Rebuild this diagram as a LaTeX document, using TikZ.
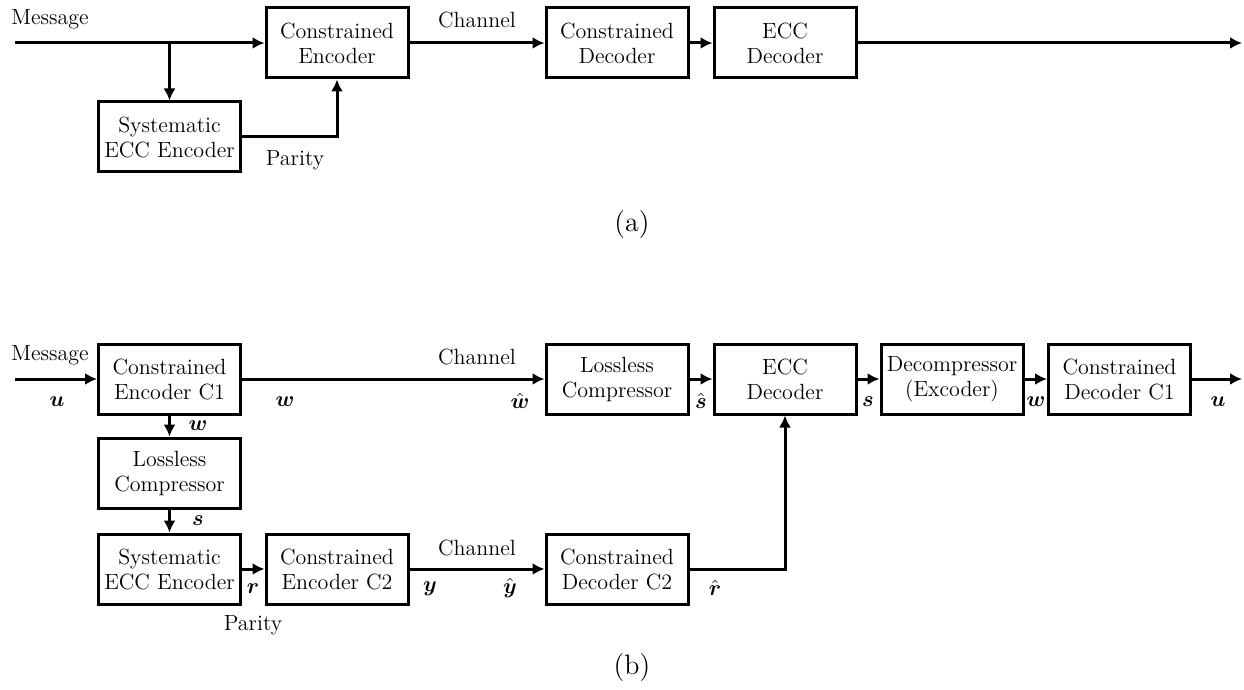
\documentclass[tikz,border=0pt]{standalone}
\usepackage{amsmath,amssymb}
\usetikzlibrary{arrows.meta}
\newcommand{\fsz}{\fontsize{11}{12.5}\selectfont}
\newcommand{\bv}[1]{\boldsymbol{#1}}
\begin{document}
\begin{tikzpicture}[x=0.5pt,y=-0.5pt,
  blk/.style={draw, line width=1.5pt, minimum width=71pt, minimum height=35pt, inner sep=0pt, align=center, font=\fsz},
  lbl/.style={inner sep=0pt, font=\fsz},
  ln/.style={line width=1.5pt},
  arr/.style={line width=1.5pt, -{Latex[length=6pt,width=6pt]}}]
\useasboundingbox (0,0) rectangle (1244,690);
% ---------- (a)
\node[blk] (CEa) at (337,43) {Constrained\\Encoder};
\node[blk] (SEa) at (169.5,137) {Systematic\\ECC Encoder};
\node[blk] (CDa) at (617,43) {Constrained\\Decoder};
\node[blk] (EDa) at (785,43) {ECC\\Decoder};
\coordinate (ina) at (15,43);
\coordinate (brA) at (169.5,43);
\coordinate (outa) at (1242,43);
\node[lbl] (msgA) at (50,19) {Message};
\node[lbl] (chA) at (477,20) {Channel};
\node[lbl] (parA) at (295,160) {Parity};
\node[inner sep=0pt, font=\fontsize{14}{16}\selectfont] (capA) at (632,225) {(a)};
\draw[arr] (ina) -- (CEa);
\draw[arr] (brA) -- (SEa);
\draw[arr] (SEa.east) -| (CEa.south);
\draw[arr] (CEa) -- (CDa);
\draw[arr] (CDa) -- (EDa);
\draw[arr] (EDa) -- (outa);
% ---------- (b)
\node[blk] (CE1) at (169.5,379) {Constrained\\Encoder C1};
\node[blk] (LC1) at (169.5,473) {Lossless\\Compressor};
\node[blk] (SEb) at (169.5,569) {Systematic\\ECC Encoder};
\node[blk] (CE2) at (337,569) {Constrained\\Encoder C2};
\node[blk] (CD2) at (617,569) {Constrained\\Decoder C2};
\node[blk] (LC2) at (617,379) {Lossless\\Compressor};
\node[blk] (EDb) at (785,379) {ECC\\Decoder};
\node[blk] (DC) at (952,379) {Decompressor\\(Excoder)};
\node[blk] (CD1) at (1119.5,379) {Constrained\\Decoder C1};
\coordinate (inb) at (15,379);
\coordinate (outb) at (1242,379);
\node[lbl] (msgB) at (50,355) {Message};
\node[lbl] (chB1) at (477,357) {Channel};
\node[lbl] (chB2) at (477,548) {Channel};
\node[lbl] (parB) at (253,625) {Parity};
\node[lbl] (u1) at (57,402) {$\bv{u}$};
\node[lbl] (w1) at (285,402) {$\bv{w}$};
\node[lbl] (w2) at (198,426) {$\bv{w}$};
\node[lbl] (s1) at (198,521) {$\bv{s}$};
\node[lbl] (r1) at (253,589) {$\bv{r}$};
\node[lbl] (y1) at (430,589) {$\bv{y}$};
\node[lbl] (yh) at (510,588) {$\hat{\bv{y}}$};
\node[lbl] (rh) at (715,588) {$\hat{\bv{r}}$};
\node[lbl] (wh) at (520,401) {$\hat{\bv{w}}$};
\node[lbl] (sh) at (701,401) {$\hat{\bv{s}}$};
\node[lbl] (s2) at (868,402) {$\bv{s}$};
\node[lbl] (w3) at (1036,402) {$\bv{w}$};
\node[lbl] (u2) at (1218,402) {$\bv{u}$};
\node[inner sep=0pt, font=\fontsize{14}{16}\selectfont] (capB) at (632,668) {(b)};
\draw[arr] (inb) -- (CE1);
\draw[arr] (CE1) -- (LC2);
\draw[arr] (LC2) -- (EDb);
\draw[arr] (EDb) -- (DC);
\draw[arr] (DC) -- (CD1);
\draw[arr] (CD1) -- (outb);
\draw[arr] (CE1) -- (LC1);
\draw[arr] (LC1) -- (SEb);
\draw[arr] (SEb) -- (CE2);
\draw[arr] (CE2) -- (CD2);
\draw[arr] (CD2.east) -| (EDb.south);
\end{tikzpicture}
\end{document}
